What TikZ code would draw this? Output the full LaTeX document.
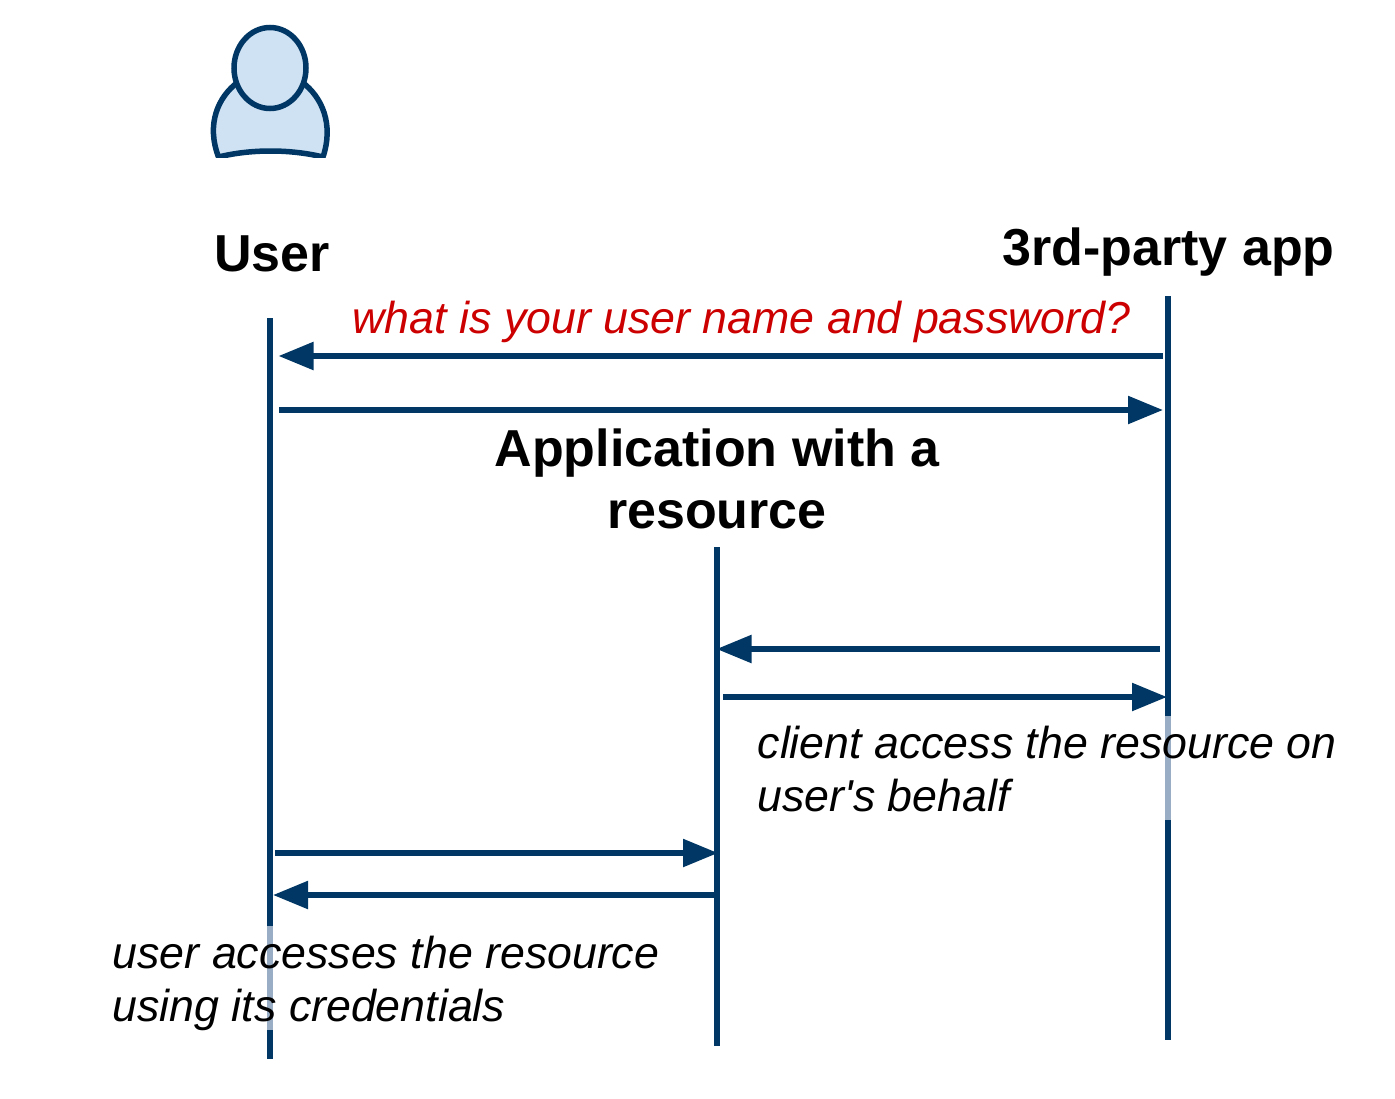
\documentclass[tikz,border=0pt]{standalone}
\usepackage{fontspec}
\setmainfont{Liberation Sans}
\usetikzlibrary{arrows.meta}
\definecolor{navy}{HTML}{003764}
\definecolor{paleline}{HTML}{99AEC4}
\definecolor{personfill}{HTML}{CFE2F3}
\definecolor{askred}{HTML}{CC0000}
\tikzset{
  x=1pt,y=-1pt,
  lifeline/.style={draw=navy,line width=6pt},
  faded/.style={draw=paleline,line width=6pt},
  msg/.style={draw=navy,line width=5.5pt,-{Triangle[length=35pt,width=27pt,fill=navy]},shorten >=0pt},
  person/.style={draw=navy,line width=5.5pt,fill=personfill},
  title/.style={font=\fontsize{52}{62}\selectfont\bfseries,inner sep=0pt,align=center},
  note/.style={font=\fontsize{44.7}{53}\selectfont\itshape,inner sep=0pt,align=left},
}
\begin{document}
\begin{tikzpicture}
\useasboundingbox (0,0) rectangle (1395,1098);
% person icon
\begin{scope}
\clip (200,20) rectangle (340,157.5);
\path[person] (218.5,157) .. controls (206,124) and (218,97) .. (238,82)
  -- (302,82) .. controls (322,97) and (334,124) .. (323,157)
  .. controls (290,149) and (251,149) .. (218.5,157) -- cycle;
\end{scope}
\path[person] (270,68) ellipse [x radius=36,y radius=40.5];
% lifeline end points
\coordinate (uTop) at (270,318);  \coordinate (uBot) at (270,1059);
\coordinate (uF1) at (270,926);   \coordinate (uF2) at (270,1030);
\coordinate (aTop) at (1167.5,296); \coordinate (aBot) at (1167.5,1040);
\coordinate (aF1) at (1167.5,716);  \coordinate (aF2) at (1167.5,820);
\coordinate (rTop) at (716.5,547);  \coordinate (rBot) at (716.5,1046);
\draw[lifeline] (uTop) -- (uBot);
\draw[lifeline] (aTop) -- (aBot);
\draw[lifeline] (rTop) -- (rBot);
\draw[faded] (uF1) -- (uF2);
\draw[faded] (aF1) -- (aF2);
% message end points
\coordinate (m1a) at (1163,356); \coordinate (m1b) at (278.5,356);
\coordinate (m2a) at (279,410);  \coordinate (m2b) at (1163,410);
\coordinate (m3a) at (1160,649); \coordinate (m3b) at (716.5,649);
\coordinate (m4a) at (723,697);  \coordinate (m4b) at (1167,697);
\coordinate (m5a) at (275,853);  \coordinate (m5b) at (718,853);
\coordinate (m6a) at (716,895);  \coordinate (m6b) at (273,895);
\draw[msg] (m1a) -- (m1b);
\draw[msg] (m2a) -- (m2b);
\draw[msg] (m3a) -- (m3b);
\draw[msg] (m4a) -- (m4b);
\draw[msg] (m5a) -- (m5b);
\draw[msg] (m6a) -- (m6b);
% labels
\node[title,anchor=base] (user) at (272,271) {User};
\node[title,anchor=base] (app) at (1168.5,265.5) {3rd-party app};
\node[title,anchor=base] (res) at (717,528.5) {Application with a\\resource};
\node[note,anchor=base west,text=askred] (ask) at (352.5,333) {what is your user name and password?};
\node[note,anchor=base west] (client) at (757.5,811) {client access the resource on\\user\textquotesingle s behalf};
\node[note,anchor=base west] (access) at (112.5,1021) {user accesses the resource\\using its credentials};
\end{tikzpicture}
\end{document}
